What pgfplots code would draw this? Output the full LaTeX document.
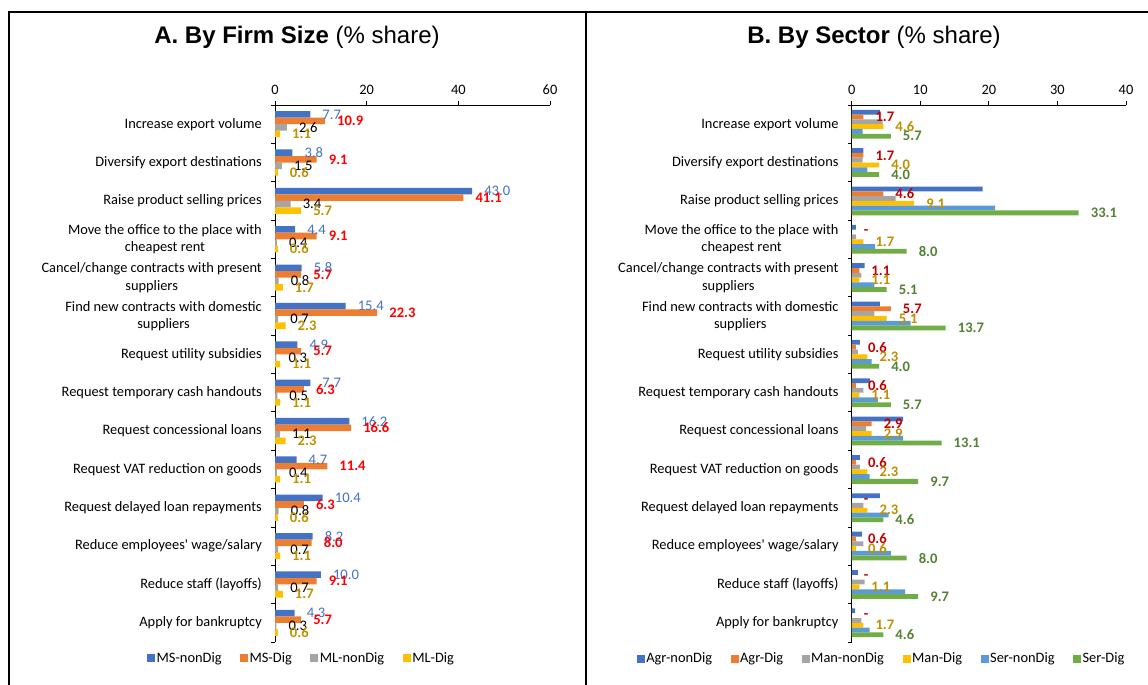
\documentclass[border=0pt]{standalone}
\usepackage{fontspec}
\setmainfont{Carlito}
\newfontfamily\arialfont{Liberation Sans}
\usepackage{pgfplots}
\pgfplotsset{compat=1.18}
\usepackage{pgfplotstable}
\pgfkeys{/pgf/number format/assume math mode=true}

\definecolor{cBlue}{HTML}{4472C4}
\definecolor{cOrange}{HTML}{ED7D31}
\definecolor{cGrey}{HTML}{A5A5A5}
\definecolor{cYellow}{HTML}{FFC000}
\definecolor{cLBlue}{HTML}{5B9BD5}
\definecolor{cGreen}{HTML}{70AD47}
\definecolor{lBlue}{HTML}{4472C4}
\definecolor{lRed}{HTML}{FF0000}
\definecolor{lDRed}{HTML}{C00000}
\definecolor{lGold}{HTML}{BF9000}
\definecolor{lGreen}{HTML}{548235}

% Panel A: by firm size
\pgfplotstableread{
y  msn  msd  mln  mld
13 7.7  10.9 2.6  1.1
12 3.8  9.1  1.5  0.6
11 43.0 41.1 3.4  5.7
10 4.4  9.1  0.4  0.6
9  5.8  5.7  0.8  1.7
8  15.4 22.3 0.7  2.3
7  4.9  5.7  0.3  1.1
6  7.7  6.3  0.5  1.1
5  16.2 16.6 1.1  2.3
4  4.7  11.4 0.4  1.1
3  10.4 6.3  0.8  0.6
2  8.2  8.0  0.7  1.1
1  10.0 9.1  0.7  1.7
0  4.3  5.7  0.3  0.6
}\tblA

% Panel B: by sector
\pgfplotstableread{
y  agn  agd  man  mad  sen  sed
13 4.1  1.7  4.5  4.6  1.6  5.7
12 1.7  1.7  1.6  4.0  2.3  4.0
11 19.1 4.6  6.4  9.1  20.9 33.1
10 0.6  0    0.6  1.7  3.4  8.0
9  1.9  1.1  1.4  1.1  3.3  5.1
8  4.1  5.7  3.3  5.1  8.6  13.7
7  1.2  0.6  0.9  2.3  2.9  4.0
6  2.7  0.6  1.7  1.1  3.8  5.7
5  7.5  2.9  2.1  2.9  7.5  13.1
4  1.2  0.6  1.2  2.3  2.6  9.7
3  4.1  0    1.7  2.3  5.4  4.6
2  1.5  0.6  1.7  0.6  5.7  8.0
1  0.9  0    1.9  1.1  7.8  9.7
0  0.5  0    1.4  1.7  2.6  4.6
}\tblB

\newcommand\lblfont{\fontsize{14.4}{17.5}\selectfont}
\newcommand\datfont{\fontsize{14.6}{17.5}\selectfont}

\pgfplotsset{
  panel/.style={
    scale only axis, height=537pt,
    xbar, bar width=0.17,
    axis x line*=top, axis y line*=left,
    axis line style={black, line width=0.8pt},
    ymin=-0.5, ymax=13.5,
    ytick={0,...,13},
    yticklabels={Apply for bankruptcy, Reduce staff (layoffs), Reduce employees\textquotesingle\ wage/salary,
      Request delayed loan repayments, Request VAT reduction on goods, Request concessional loans,
      Request temporary cash handouts, Request utility subsidies,
      {Find new contracts with domestic\\suppliers}, {Cancel/change contracts with present\\suppliers},
      {Move the office to the place with\\cheapest rent}, Raise product selling prices,
      Diversify export destinations, Increase export volume},
    yticklabel style={align=center, font=\lblfont, inner sep=0pt, xshift=-9pt},
    xticklabel style={font=\lblfont, inner sep=0pt, yshift=6pt},
    tick align=outside, major tick length=4pt,
    ytick style={draw=none},
    extra y ticks={-0.5,0.5,...,13.5}, extra y tick labels={},
    extra y tick style={ytick style={draw=black, line width=0.8pt}},
    xtick style={draw=black, line width=0.8pt},
    point meta=x,
    legend columns=-1,
    legend style={draw=none, fill=none, inner sep=0pt,
      /tikz/every even column/.append style={column sep=17pt},
      nodes={inner sep=1.5pt}},
    legend image code/.code={\fill[##1] (0pt,-4pt) rectangle (8pt,4pt);},
    every node near coord/.append style={anchor=west, inner sep=0pt, xshift=12pt, font=\datfont},
    nodes near coords={\pgfmathfloatifflags{\pgfplotspointmeta}{0}{-}{\pgfmathprintnumber[fixed,fixed zerofill,precision=1]{\pgfplotspointmeta}}},
  },
}

\begin{document}
\begin{tikzpicture}
\useasboundingbox (0,0) rectangle (1148pt,-685pt);
\fill[white] (0,0) rectangle (1148pt,-685pt);
\draw[line width=2pt] (9pt,-700pt) -- (9pt,-12pt) -- (1160pt,-12pt);
\draw[line width=2pt] (586pt,-12pt) -- (586pt,-700pt);

\node[font=\arialfont\fontsize{24}{28}\selectfont] at (297pt,-37pt) {\textbf{A. By Firm Size} (\% share)};
\node[font=\arialfont\fontsize{24}{28}\selectfont] at (874pt,-37pt) {\textbf{B. By Sector} (\% share)};

\begin{axis}[panel, at={(275pt,-105pt)}, anchor=north west, width=275pt,
  xmin=0, xmax=60, xtick={0,20,40,60},
  legend style={at={(axis description cs:-0.4655,-0.03)}, anchor=west}]
\addplot[fill=cBlue, draw=none, bar shift=0.255,
  every node near coord/.append style={text=lBlue}] table[x=msn, y=y] {\tblA};
\addplot[fill=cOrange, draw=none, bar shift=0.085,
  every node near coord/.append style={text=lRed, font=\datfont\bfseries}] table[x=msd, y=y] {\tblA};
\addplot[fill=cGrey, draw=none, bar shift=-0.085,
  every node near coord/.append style={text=black}] table[x=mln, y=y] {\tblA};
\addplot[fill=cYellow, draw=none, bar shift=-0.255,
  every node near coord/.append style={text=lGold, font=\datfont\bfseries}] table[x=mld, y=y] {\tblA};
\legend{{\lblfont MS-nonDig}, {\lblfont MS-Dig}, {\lblfont ML-nonDig}, {\lblfont ML-Dig}}
\end{axis}

\begin{axis}[panel, at={(851.7pt,-105pt)}, anchor=north west, width=274.3pt,
  xmin=0, xmax=40, xtick={0,10,20,30,40}, bar width=0.125,
  legend style={at={(axis description cs:-0.784,-0.031)}, anchor=west}]
\addplot[fill=cBlue, draw=none, bar shift=0.3125, nodes near coords={}] table[x=agn, y=y] {\tblB};
\addplot[fill=cOrange, draw=none, bar shift=0.1875,
  every node near coord/.append style={text=lDRed, font=\datfont\bfseries}] table[x=agd, y=y] {\tblB};
\addplot[fill=cGrey, draw=none, bar shift=0.0625, nodes near coords={}] table[x=man, y=y] {\tblB};
\addplot[fill=cYellow, draw=none, bar shift=-0.0625,
  every node near coord/.append style={text=lGold, font=\datfont\bfseries}] table[x=mad, y=y] {\tblB};
\addplot[fill=cLBlue, draw=none, bar shift=-0.1875, nodes near coords={}] table[x=sen, y=y] {\tblB};
\addplot[fill=cGreen, draw=none, bar shift=-0.3125,
  every node near coord/.append style={text=lGreen, font=\datfont\bfseries}] table[x=sed, y=y] {\tblB};
\legend{{\lblfont Agr-nonDig}, {\lblfont Agr-Dig}, {\lblfont Man-nonDig}, {\lblfont Man-Dig}, {\lblfont Ser-nonDig}, {\lblfont Ser-Dig}}
\end{axis}
\end{tikzpicture}
\end{document}
